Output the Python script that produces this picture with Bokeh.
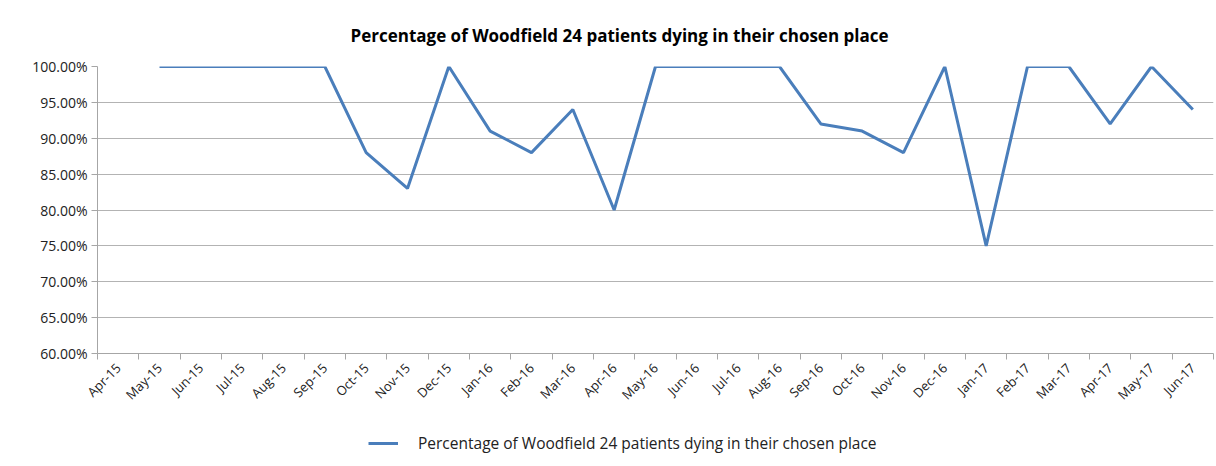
from math import pi
import numpy as np
from bokeh.plotting import figure
from bokeh.layouts import column
from bokeh.models import (Range1d, FixedTicker, NumeralTickFormatter, Legend, LegendItem,
                          ColumnDataSource, Title)
from bokeh.embed import file_html
from bokeh.resources import INLINE

months = ["Apr-15", "May-15", "Jun-15", "Jul-15", "Aug-15", "Sep-15", "Oct-15", "Nov-15",
          "Dec-15", "Jan-16", "Feb-16", "Mar-16", "Apr-16", "May-16", "Jun-16", "Jul-16",
          "Aug-16", "Sep-16", "Oct-16", "Nov-16", "Dec-16", "Jan-17", "Feb-17", "Mar-17",
          "Apr-17", "May-17", "Jun-17"]
pct = [None, 1.00, 1.00, 1.00, 1.00, 1.00, 0.88, 0.83,
       1.00, 0.91, 0.88, 0.94, 0.80, 1.00, 1.00, 1.00,
       1.00, 0.92, 0.91, 0.88, 1.00, 0.75, 1.00, 1.00,
       0.92, 1.00, 0.94]
y_ticks = [0.60, 0.65, 0.70, 0.75, 0.80, 0.85, 0.90, 0.95, 1.00]
series_name = "Percentage of Woodfield 24 patients dying in their chosen place"

FONT = "Open Sans"
LINE_COLOR = "#4a7ebb"
x = [i + 0.5 for i in range(len(months))]
y = [np.nan if v is None else v for v in pct]
src = ColumnDataSource(dict(x=x, y=y))

p = figure(width=1214, height=420, output_backend="svg", toolbar_location=None,
           x_range=Range1d(0, len(months)), y_range=Range1d(0.60, 1.00),
           min_border_left=97, min_border_right=1, min_border_top=66, min_border_bottom=67)
p.outline_line_color = None
p.background_fill_color = "white"
p.border_fill_color = "white"

t = Title(text="Percentage of Woodfield 24 patients dying in their chosen place",
          align="left", text_font=FONT, text_font_size="17px", text_font_style="bold",
          text_color="#000000", standoff=40, offset=253)
p.add_layout(t, "above")

r = p.line("x", "y", source=src, line_color=LINE_COLOR, line_width=3)

# x axis
xa = p.xaxis[0]
xa.ticker = FixedTicker(ticks=x, minor_ticks=list(range(len(months) + 1)))
xa.major_label_overrides = {xi: m for xi, m in zip(x, months)}
xa.major_label_orientation = pi / 4
xa.major_tick_line_color = None
xa.minor_tick_line_color = "#a6a6a6"
xa.minor_tick_out = 6
xa.minor_tick_in = 0
xa.axis_line_color = "#a6a6a6"
xa.major_label_text_font = FONT
xa.major_label_text_font_size = "13px"
xa.major_label_text_color = "#222222"
xa.major_label_standoff = 6

ya = p.yaxis[0]
ya.ticker = FixedTicker(ticks=y_ticks)
ya.formatter = NumeralTickFormatter(format="0.00%")
ya.axis_line_color = "#a6a6a6"
ya.major_tick_line_color = "#a6a6a6"
ya.major_tick_out = 6
ya.major_tick_in = 0
ya.minor_tick_line_color = None
ya.major_label_text_font = FONT
ya.major_label_text_font_size = "14px"
ya.major_label_text_color = "#222222"
ya.major_label_standoff = 4

p.xgrid.grid_line_color = None
p.ygrid.ticker = FixedTicker(ticks=y_ticks)
p.ygrid.grid_line_color = "#b3b3b3"
p.ygrid.grid_line_width = 1

# legend strip below the chart
p2 = figure(width=1214, height=44, output_backend="svg", toolbar_location=None,
            x_range=Range1d(0, len(months)), y_range=Range1d(10, 11),
            min_border_left=0, min_border_right=0, min_border_top=0, min_border_bottom=0)
p2.axis.visible = False
p2.grid.grid_line_color = None
p2.outline_line_color = None
r2 = p2.line("x", "y", source=src, line_color=LINE_COLOR, line_width=3)
legend = Legend(items=[LegendItem(label=series_name, renderers=[r2])],
                orientation="horizontal", location=(271, 10),
                label_text_font=FONT, label_text_font_size="15.5px", label_text_color="#222222",
                border_line_color=None, background_fill_alpha=0,
                glyph_width=30, label_standoff=20, padding=2, margin=0)
p2.add_layout(legend, "center")

layout = column(p, p2, spacing=0)
open("out.html", "w").write(file_html(layout, INLINE))
